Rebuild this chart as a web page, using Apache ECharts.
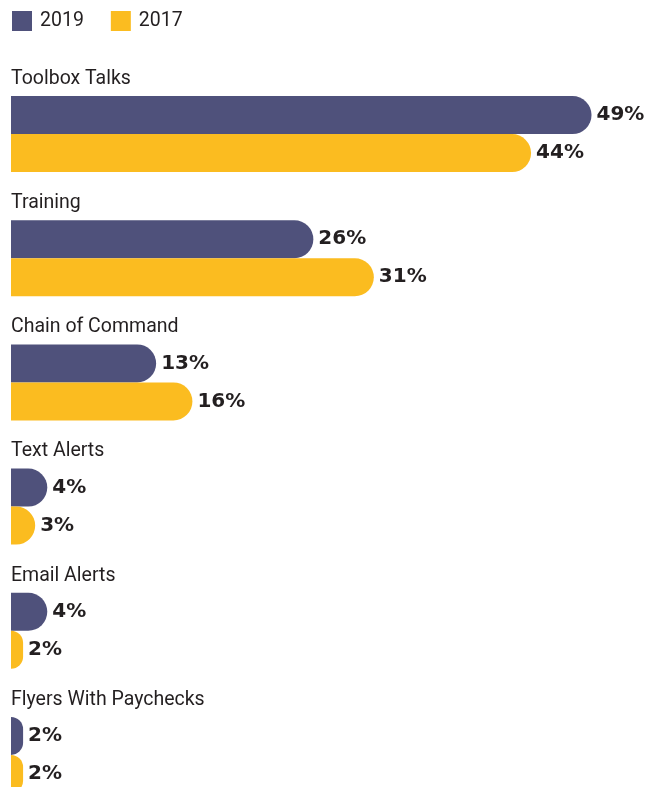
<!DOCTYPE html>
<html>
<head>
<meta charset="utf-8">
<script src="https://cdn.jsdelivr.net/npm/echarts@6/dist/echarts.min.js"></script>
<style>
  html, body { margin: 0; padding: 0; background: #ffffff; }
  #chart { width: 650px; height: 787px; }
</style>
</head>
<body>
<div id="chart"></div>
<script>
const categories = ['Toolbox Talks', 'Training', 'Chain of Command', 'Text Alerts', 'Email Alerts', 'Flyers With Paychecks'];
const values2019 = [49, 26, 13, 4, 4, 2];
const values2017 = [44, 31, 16, 3, 2, 2];
const seriesNames = ['2019', '2017'];

const PURPLE = '#4f517b';
const YELLOW = '#fbbc20';
const TEXT = '#231f20';
const FONT = 'Roboto, "Liberation Sans", Arial, sans-serif';
const LABEL_FONT = '"DejaVu Sans", Verdana, sans-serif';

const chart = echarts.init(document.getElementById('chart'), null, { renderer: 'canvas' });

function barSeries(name, data, color) {
  return {
    name: name,
    type: 'bar',
    data: data,
    barWidth: 38,
    barGap: '0%',
    clip: true,
    itemStyle: { color: color, borderRadius: [0, 19, 19, 0] },
    label: {
      show: true,
      position: 'right',
      distance: 5,
      formatter: '{c}%',
      fontFamily: LABEL_FONT,
      fontWeight: 'bold',
      fontSize: 20,
      color: TEXT
    },
    emphasis: { disabled: true }
  };
}

chart.setOption({
  animation: false,
  backgroundColor: '#ffffff',
  legend: {
    left: 12,
    top: 11,
    padding: 0,
    itemWidth: 20,
    itemHeight: 20,
    itemGap: 27,
    icon: 'rect',
    data: seriesNames,
    textStyle: { fontFamily: FONT, fontSize: 19.5, color: TEXT, padding: [0, 0, 0, 3] }
  },
  grid: { left: 11, top: 72, width: 641, height: 745, containLabel: false, outerBoundsMode: 'none' },
  xAxis: {
    type: 'value',
    min: 1,
    max: 54,
    show: false
  },
  yAxis: {
    type: 'category',
    inverse: true,
    data: categories,
    axisLine: { show: false },
    axisTick: { show: false },
    splitLine: { show: false },
    axisLabel: {
      inside: true,
      margin: 0,
      align: 'left',
      verticalAlign: 'bottom',
      padding: [0, 0, 45, 0],
      lineHeight: 20,
      fontFamily: FONT,
      fontSize: 19.5,
      color: TEXT
    },
    z: 10
  },
  series: [
    barSeries(seriesNames[0], values2019, PURPLE),
    barSeries(seriesNames[1], values2017, YELLOW)
  ]
});
</script>
</body>
</html>
